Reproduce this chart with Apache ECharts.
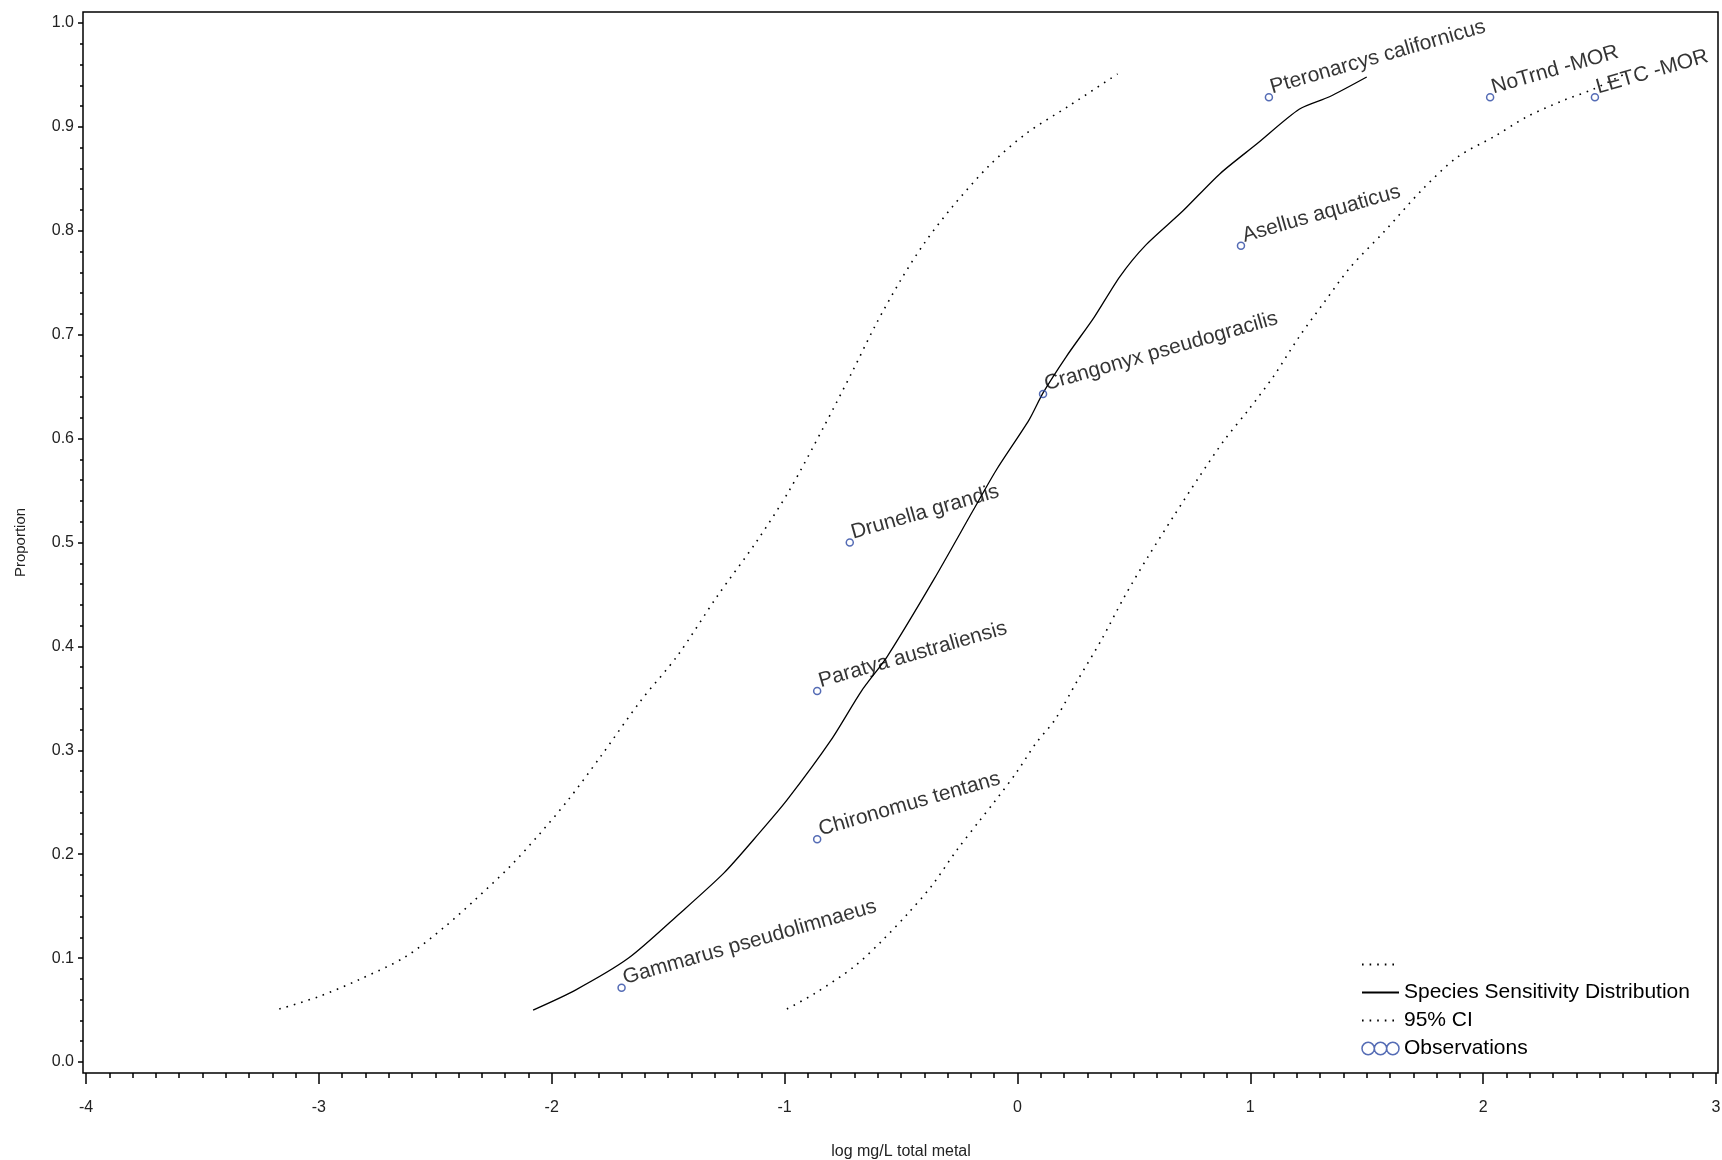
<!DOCTYPE html>
<html>
<head>
<meta charset="utf-8">
<script src="https://cdn.jsdelivr.net/npm/echarts@6/dist/echarts.min.js"></script>
<style>
html,body{margin:0;padding:0;background:#fff;}
#chart{width:1722px;height:1160px;}
</style>
</head>
<body>
<div id="chart"></div>
<script>
// ---- data ----
const xTicks = [-4, -3, -2, -1, 0, 1, 2, 3];
const yTicks = [0.0, 0.1, 0.2, 0.3, 0.4, 0.5, 0.6, 0.7, 0.8, 0.9, 1.0];

const ssdX = [-2.08, -1.90, -1.67, -1.45, -1.26, -1.11, -0.99, -0.80, -0.67, -0.56, -0.36, -0.19, -0.09, 0.05, 0.11, 0.21, 0.33, 0.44, 0.55, 0.71, 0.87, 1.03, 1.21, 1.34, 1.50];
const ssdY = [0.050, 0.069, 0.100, 0.143, 0.182, 0.220, 0.252, 0.310, 0.357, 0.390, 0.464, 0.531, 0.570, 0.618, 0.644, 0.679, 0.717, 0.756, 0.786, 0.819, 0.855, 0.884, 0.917, 0.929, 0.948];

const lowX = [-3.17, -3.00, -2.83, -2.63, -2.46, -2.33, -2.18, -2.05, -1.93, -1.79, -1.62, -1.46, -1.29, -1.12, -0.98, -0.83, -0.71, -0.61, -0.50, -0.40, -0.28, -0.12, 0.04, 0.22, 0.43];
const lowY = [0.051, 0.063, 0.079, 0.101, 0.130, 0.156, 0.188, 0.220, 0.252, 0.294, 0.347, 0.391, 0.448, 0.501, 0.550, 0.612, 0.664, 0.709, 0.753, 0.788, 0.823, 0.863, 0.894, 0.920, 0.951];

const highX = [-0.99, -0.87, -0.70, -0.58, -0.47, -0.37, -0.26, -0.16, -0.10, 0.00, 0.08, 0.16, 0.26, 0.36, 0.46, 0.56, 0.67, 0.78, 0.89, 0.99, 1.10, 1.21, 1.32, 1.43, 1.57, 1.74, 1.89, 2.05, 2.19, 2.35, 2.47, 2.60];
const highY = [0.051, 0.066, 0.092, 0.117, 0.143, 0.169, 0.204, 0.233, 0.250, 0.280, 0.307, 0.329, 0.368, 0.406, 0.448, 0.486, 0.525, 0.563, 0.599, 0.627, 0.660, 0.698, 0.732, 0.765, 0.798, 0.840, 0.871, 0.891, 0.910, 0.926, 0.936, 0.950];

const obsNames = ["Gammarus pseudolimnaeus", "Chironomus tentans", "Paratya australiensis", "Drunella grandis", "Crangonyx pseudogracilis", "Asellus aquaticus", "Pteronarcys californicus", "NoTrnd -MOR", "LETC -MOR"];
const obsX = [-1.70, -0.86, -0.86, -0.72, 0.11, 0.96, 1.08, 2.03, 2.48];
const obsY = [0.0714, 0.2143, 0.3571, 0.5000, 0.6429, 0.7857, 0.9286, 0.9286, 0.9286];

const seriesNames = [" ", "Species Sensitivity Distribution", "95% CI", "Observations"];

// ---- build ----
const zip = (xs, ys) => xs.map((x, i) => [x, ys[i]]);
const FONT = "'Liberation Sans', Arial, sans-serif";
const BLUE = '#2A47A3';
const dotted = { color: '#000', width: 1.6, type: [1.6, 6] };
const hideSym = { color: 'rgba(0,0,0,0)', borderWidth: 0, opacity: 0 };
const threeCircles = 'path://M0,10a10,10 0 1,0 20,0a10,10 0 1,0 -20,0M20,10a10,10 0 1,0 20,0a10,10 0 1,0 -20,0M40,10a10,10 0 1,0 20,0a10,10 0 1,0 -20,0';

const chart = echarts.init(document.getElementById('chart'), null, { renderer: 'canvas' });
chart.setOption({
  animation: false,
  backgroundColor: '#fff',
  textStyle: { fontFamily: FONT, color: '#000' },
  grid: [
    { left: 86, right: 6, top: 23, bottom: 98, outerBoundsMode: 'none', containLabel: false, show: false },
    { left: 83, right: 4, top: 12, bottom: 87, outerBoundsMode: 'none', containLabel: false, show: true,
      borderColor: '#000', borderWidth: 1.5, backgroundColor: 'transparent' }
  ],
  xAxis: [
    {
      type: 'value', gridIndex: 0, min: xTicks[0], max: xTicks[xTicks.length - 1], interval: 1,
      offset: 11,
      name: 'log mg/L total metal', nameLocation: 'middle', nameGap: 71,
      nameTextStyle: { fontSize: 16, color: '#222', fontFamily: FONT },
      axisLine: { show: false, onZero: false },
      axisTick: { show: true, length: 11, lineStyle: { color: '#000', width: 1.5 } },
      minorTick: { show: true, splitNumber: 10, length: 5, lineStyle: { color: '#000', width: 1.5 } },
      splitLine: { show: false }, minorSplitLine: { show: false },
      axisLabel: { margin: 27, fontSize: 16, color: '#222', fontFamily: FONT, formatter: v => String(v) }
    },
    { type: 'value', gridIndex: 1, show: false, min: 0, max: 1 }
  ],
  yAxis: [
    {
      type: 'value', gridIndex: 0, min: yTicks[0], max: yTicks[yTicks.length - 1], interval: 0.1,
      offset: 3,
      name: 'Proportion', nameLocation: 'middle', nameGap: 55, nameRotate: 90,
      nameTextStyle: { fontSize: 15, color: '#222', fontFamily: FONT },
      axisLine: { show: false, onZero: false },
      axisTick: { show: true, length: 5, lineStyle: { color: '#000', width: 1.5 } },
      minorTick: { show: true, splitNumber: 5, length: 3, lineStyle: { color: '#000', width: 1.5 } },
      splitLine: { show: false }, minorSplitLine: { show: false },
      axisLabel: { margin: 9, fontSize: 16, color: '#222', fontFamily: FONT, formatter: v => v.toFixed(1) }
    },
    { type: 'value', gridIndex: 1, show: false, min: 0, max: 1 }
  ],
  legend: {
    orient: 'vertical', left: 1356, top: 949, itemWidth: 37, itemHeight: 13, itemGap: 7,
    selectedMode: false,
    textStyle: { fontSize: 21, color: '#000', fontFamily: FONT },
    data: [
      { name: seriesNames[0], itemStyle: hideSym },
      { name: seriesNames[1], itemStyle: hideSym },
      { name: seriesNames[2], itemStyle: hideSym },
      { name: seriesNames[3], icon: threeCircles, itemStyle: { color: 'rgba(0,0,0,0)', borderColor: BLUE, borderWidth: 1.5 } }
    ]
  },
  series: [
    { name: seriesNames[0], type: 'line', xAxisIndex: 0, yAxisIndex: 0, data: zip(lowX, lowY),
      symbol: 'none', showSymbol: false, smooth: 0.3, lineStyle: dotted, itemStyle: { color: '#000' }, silent: true, z: 2 },
    { name: seriesNames[1], type: 'line', xAxisIndex: 0, yAxisIndex: 0, data: zip(ssdX, ssdY),
      symbol: 'none', showSymbol: false, smooth: 0.25, lineStyle: { color: '#000', width: 1.3, type: 'solid' }, itemStyle: { color: '#000' }, silent: true, z: 2 },
    { name: seriesNames[2], type: 'line', xAxisIndex: 0, yAxisIndex: 0, data: zip(highX, highY),
      symbol: 'none', showSymbol: false, smooth: 0.3, lineStyle: dotted, itemStyle: { color: '#000' }, silent: true, z: 2 },
    { name: seriesNames[3], type: 'scatter', xAxisIndex: 0, yAxisIndex: 0, data: zip(obsX, obsY),
      symbol: 'circle', symbolSize: 7,
      itemStyle: { color: 'rgba(0,0,0,0)', borderColor: BLUE, borderWidth: 1.5 },
      label: {
        show: true, formatter: p => obsNames[p.dataIndex],
        position: [9, 5], rotate: 16, align: 'left', verticalAlign: 'bottom',
        fontSize: 21, color: '#000', fontFamily: FONT
      },
      silent: true, z: 3 }
  ]
});
</script>
</body>
</html>
